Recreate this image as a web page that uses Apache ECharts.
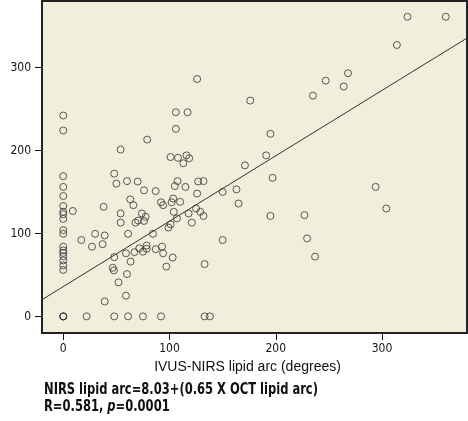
<!DOCTYPE html>
<html>
<head>
<meta charset="utf-8">
<script src="https://cdn.jsdelivr.net/npm/echarts@6/dist/echarts.min.js"></script>
<style>html,body{margin:0;padding:0;background:#fff;}#c{width:468px;height:421px;}</style>
</head>
<body>
<div id="c"></div>
<script>
// IVUS-NIRS lipid arc (x) and OCT lipid arc (y), degrees
var ivusNirs = [
  0,0,0,0,0,0,0,0,0,0,0,0,0,0,0,0,0,0,0,0,0,
  126,106,117,106,79,54,101,108,116,118.5,113,48,
  324,360,314,268,247,264,235,176,195,191,171,197,
  163,165,195,227,229.5,237,294,304,
  9,17,27,30,37,39,38,39,22,46.5,47.7,48,52,50,54,54,59,60,59,61,60,63.4,63,66,70,68,70.5,67,71.5,74,76,77.5,76,75,78.5,78.5,84.4,87,87,92,94,93,94,97,99,101,102,103.5,104,103,105,107,107.6,110,115,118,121,126,127,125,129,132,132,133,150,150,
  48,61,75,92,133,138
];
var oct = [
  242,224,169,156,145,133,126,123,117.5,104,99.5,84,79.5,76.5,72.5,67.5,61.5,56,0,0,0,
  286,246,246,226,213,201,192,191,194,190.5,184.5,172,
  361,361,327,293,284,277,266,260,220,194,182,167,
  153,136,121,122,94,72,156,130,
  127,92,84,99.5,87,97.5,132,18,0,58.6,55.4,71.4,41,160,124,113,25,51,76,99.5,163,66,141,134,162.5,113,115.5,77.4,82,124,115,120,152,78,85.4,81.5,99.5,151,81,137.5,134,84,76,60,107,111,137.5,142,126,71,157,118,163,138,156,124,113,148,162.5,130,126,163,121,63,92,150,
  0,0,0,0,0,0
];
var xTicks = [0, 100, 200, 300];
var yTicks = [0, 100, 200, 300];
var fitIntercept = 35.9;
var fitSlope = 0.788;
var axisRange = [-20, 380];

var points = ivusNirs.map(function (x, i) { return [x, oct[i]]; });
var fitLine = axisRange.map(function (x) { return [x, fitIntercept + fitSlope * x]; });

var chart = echarts.init(document.getElementById('c'), null, {renderer: 'canvas'});
var tickFont = '"Liberation Sans Narrow", "DejaVu Sans Condensed", sans-serif';
chart.setOption({
  animation: false,
  backgroundColor: '#ffffff',
  grid: {left: 42, right: 1, top: 1, bottom: 88, containLabel: false, outerBoundsMode: 'none',
    show: true, backgroundColor: '#f1eedc', borderColor: '#222', borderWidth: 2},
  xAxis: {
    type: 'value', min: axisRange[0], max: axisRange[1],
    name: 'IVUS-NIRS lipid arc (degrees)', nameLocation: 'middle', nameGap: 18,
    nameTextStyle: {fontFamily: '"Liberation Sans", Arial, sans-serif', fontSize: 14, color: '#111', padding: [0, 14, 0, 0]},
    axisLine: {show: false, onZero: false},
    splitLine: {show: false},
    axisTick: {show: true, length: 7, customValues: xTicks, lineStyle: {color: '#111', width: 1}},
    axisLabel: {customValues: xTicks, margin: 10, fontFamily: tickFont, fontSize: 12, color: '#111'}
  },
  yAxis: {
    type: 'value', min: axisRange[0], max: axisRange[1],
    name: 'OCT lipid arc (degrees)', nameLocation: 'middle', nameGap: 31, nameRotate: 90,
    nameTextStyle: {fontFamily: '"Liberation Sans", Arial, sans-serif', fontSize: 14, color: '#111'},
    axisLine: {show: false, onZero: false},
    splitLine: {show: false},
    axisTick: {show: true, length: 7, customValues: yTicks, lineStyle: {color: '#111', width: 1}},
    axisLabel: {customValues: yTicks, margin: 11, fontFamily: tickFont, fontSize: 12, color: '#111'}
  },
  series: [
    {
      type: 'line', data: fitLine, symbol: 'none', silent: true,
      lineStyle: {color: '#333', width: 1}, z: 1
    },
    {
      type: 'scatter', data: points, symbol: 'circle', symbolSize: 7,
      itemStyle: {color: 'rgba(0,0,0,0)', borderColor: '#333', borderWidth: 1}, z: 2
    }
  ],
  graphic: [{
    type: 'text', x: 44, y: 381, scaleX: 0.8,
    style: {
      text: '{b|NIRS lipid arc=8.03+(0.65 X OCT lipid arc)}\n{b|R=0.581, }{i|p}{b|=0.0001}',
      rich: {
        b: {fontFamily: tickFont, fontWeight: 'bold', fontSize: 16, lineHeight: 17, fill: '#111'},
        i: {fontFamily: tickFont, fontWeight: 'bold', fontStyle: 'italic', fontSize: 16, lineHeight: 17, fill: '#111'}
      }
    }
  }]
});
</script>
</body>
</html>
